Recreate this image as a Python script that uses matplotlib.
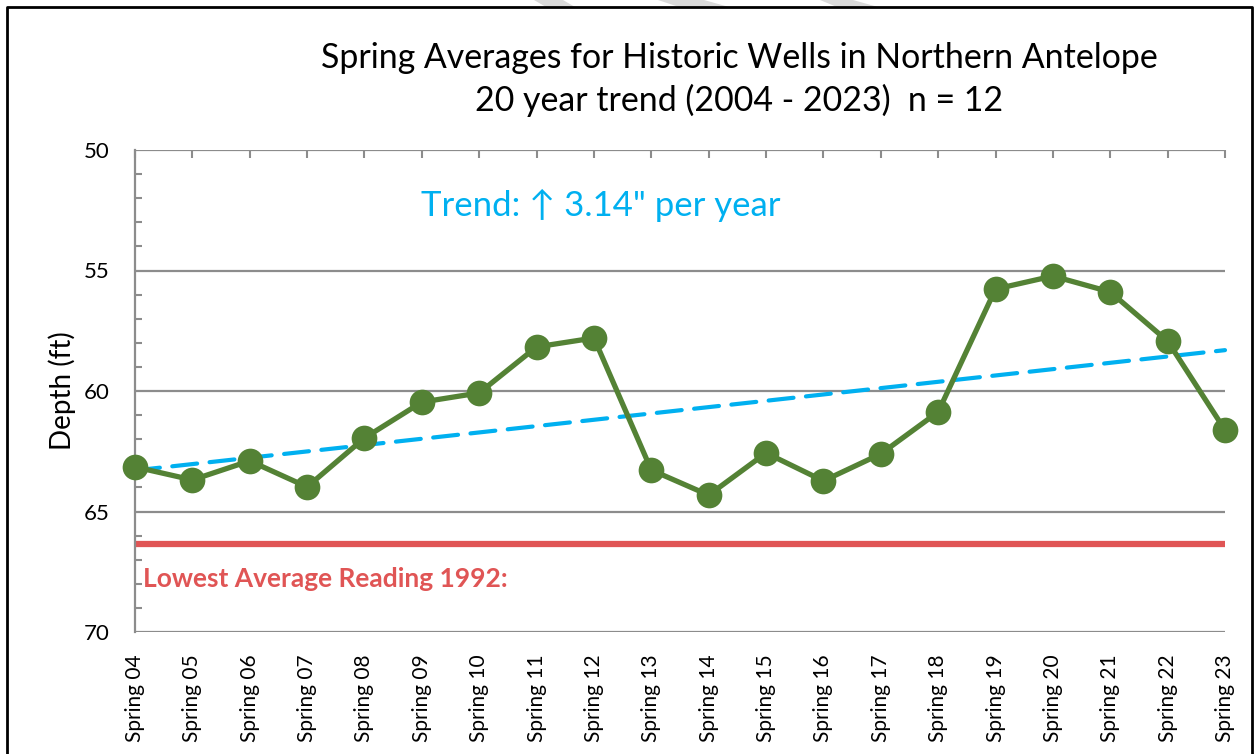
import numpy as np
import matplotlib.pyplot as plt
from matplotlib.patches import Polygon
from matplotlib.lines import Line2D
from matplotlib.ticker import MultipleLocator

plt.rcParams['font.family'] = ['Lato', 'DejaVu Sans']

seasons = ['Spring %02d' % y for y in range(4, 24)]
depth = [63.15, 63.69, 62.90, 63.98, 61.95, 60.46, 60.08, 58.17, 57.80, 63.28,
         64.32, 62.57, 63.73, 62.61, 60.87, 55.77, 55.23, 55.89, 57.93, 61.62]
lowest_1992 = 66.35

green = '#548235'
blue = '#00B0F0'
red = '#E05555'
grid_gray = '#8C8C8C'

fig = plt.figure(figsize=(12.55, 7.54), dpi=100)
ax = fig.add_axes([135 / 1255, 1 - 632 / 754, 1090 / 1255, 482 / 754])

x = np.arange(len(depth))

# horizontal gridlines (50 and 70 act as top / bottom lines)
for g in [50, 55, 60, 65, 70]:
    ax.axhline(g, color=grid_gray, lw=1.6, zorder=1)

# lowest reading
ax.axhline(lowest_1992, color=red, lw=4.5, zorder=2)
ax.text(0.14, lowest_1992 + 1.45, 'Lowest Average Reading 1992:', color=red,
        fontsize=19, fontweight='bold', va='center', ha='left')

# trend line from the data
fit = np.polyfit(x, depth, 1)
ax.plot(x, np.polyval(fit, x), color=blue, lw=3, dashes=(6, 3),
        dash_capstyle='round', zorder=3, clip_on=False)

ax.plot(x, depth, color=green, lw=3.8, marker='o', markersize=18.5,
        markeredgewidth=0, zorder=4, clip_on=False)

ax.text(8.12, 52.3, 'Trend: \u2191 3.14" per year', color=blue,
        fontsize=25, va='center', ha='center')

ax.set_xlim(0, 19)
ax.set_ylim(70, 50)
ax.set_xticks(x)
ax.set_xticklabels(seasons, rotation=90, fontsize=15, va='top')
ax.tick_params(axis='x', bottom=False, top=True, labelbottom=True, labeltop=False,
               direction='in', length=6, width=1.5, color=grid_gray, pad=16)
ax.set_yticks([50, 55, 60, 65, 70])
ax.yaxis.set_minor_locator(MultipleLocator(1))
ax.tick_params(axis='y', which='major', length=0, labelsize=16, pad=18)
ax.tick_params(axis='y', which='minor', direction='in', length=5, width=1.5,
               color=grid_gray)

for s in ['top', 'right', 'bottom']:
    ax.spines[s].set_visible(False)
ax.spines['left'].set_color(grid_gray)
ax.spines['left'].set_linewidth(1.6)

fig.text(62 / 1255, 1 - 391 / 754, 'Depth (ft)', rotation=90, fontsize=20,
         va='center', ha='center')

fig.text(739 / 1255, 1 - 58 / 754, 'Spring Averages for Historic Wells in Northern Antelope',
         fontsize=24.4, ha='center', va='center')
fig.text(739 / 1255, 1 - 100 / 754, '20 year trend (2004 - 2023)  n = 12',
         fontsize=24.4, ha='center', va='center')

# page border
W, H = 1255, 754
fig.add_artist(Line2D([7 / W, 7 / W, 1252 / W, 1252 / W], [0, 1 - 7 / H, 1 - 7 / H, 0],
                      color='black', lw=2))

# faint watermark stripes above border
for (a, b, c, d) in [(534, 563, 575, 546), (658, 704, 729, 679), (820, 853, 878, 837)]:
    fig.add_artist(Polygon([(a / W, 1), (b / W, 1), (c / W, 1 - 7 / H), (d / W, 1 - 7 / H)],
                           closed=True, facecolor='#DADADA', edgecolor='none',
                           transform=fig.transFigure))

fig.savefig('out.png', dpi=100)
